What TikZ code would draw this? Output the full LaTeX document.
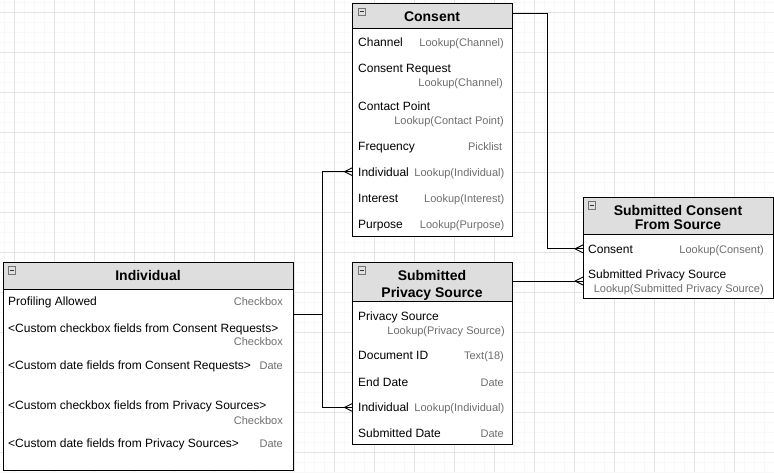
\documentclass[tikz,border=0pt]{standalone}
\usepackage{fontspec}
\setmainfont{Liberation Sans}
\definecolor{headgray}{HTML}{DEDEDE}
\definecolor{typegray}{HTML}{6E6E6E}
\definecolor{gridmajor}{HTML}{E3E3E3}
\definecolor{gridminor}{HTML}{F8F8F8}
\begin{document}
\begin{tikzpicture}[x=1pt,y=-1pt,
  ent/.style={draw=black, line width=0.8pt, fill=white, inner sep=0, outer sep=0, anchor=north west},
  enthead/.style={draw=black, line width=0.8pt, fill=headgray, inner sep=0, outer sep=0, anchor=north west},
  fld/.style={anchor=base west, inner sep=0, font=\fontsize{12}{14}\selectfont},
  typ/.style={anchor=base east, inner sep=0, text=typegray, font=\fontsize{11}{13}\selectfont},
  hdr/.style={anchor=base, inner sep=0, font=\fontsize{14}{16}\selectfont\bfseries},
  collapse/.style={draw=black!55, fill=black!12, line width=0.5pt, minimum size=7.5pt, inner sep=0,
    path picture={\draw[black!80, line width=0.8pt] ([xshift=-2pt]path picture bounding box.center) -- ([xshift=2pt]path picture bounding box.center);}},
  conn/.style={draw=black, line width=0.9pt},
  crow/.pic={\draw[conn] (-8,0) -- (0,4) (-8,0) -- (0,-4);}
]
\useasboundingbox (0,0) rectangle (774,472);
\fill[white] (0,0) rectangle (774,472);
% grid
\foreach \i in {0,...,77} {\draw[gridminor, line width=0.4pt] ({4+10*\i},0) -- ({4+10*\i},472);}
\foreach \i in {0,...,47} {\draw[gridminor, line width=0.4pt] (0,{2+10*\i}) -- (774,{2+10*\i});}
\foreach \i in {0,...,19} {\draw[gridmajor, line width=0.6pt] ({14+40*\i},0) -- ({14+40*\i},472);}
\foreach \i in {0,...,11} {\draw[gridmajor, line width=0.6pt] (0,{12+40*\i}) -- (774,{12+40*\i});}

% ---------- Consent ----------
\node[ent, minimum width=160, minimum height=233.5] (consentBox) at (352.5,3) {};
\node[enthead, minimum width=160, minimum height=25.5] (consentHead) at (352.5,3) {};
\node[collapse] (consentMin) at (361.5,11.5) {};
\node[hdr] (consentTitle) at (432,21.3) {Consent};
\node[fld] (cCh) at (358,46) {Channel};
\node[typ] (cChT) at (504,46) {Lookup(Channel)};
\node[fld] (cCR) at (358,72.5) {Consent Request};
\node[typ] (cCRT) at (503,86) {Lookup(Channel)};
\node[fld] (cCP) at (358,110) {Contact Point};
\node[typ] (cCPT) at (504,124) {Lookup(Contact Point)};
\node[fld] (cFr) at (358,150) {Frequency};
\node[typ] (cFrT) at (502.5,150) {Picklist};
\node[fld] (cIn) at (358,176) {Individual};
\node[typ] (cInT) at (504.5,176) {Lookup(Individual)};
\node[fld] (cIt) at (358,202) {Interest};
\node[typ] (cItT) at (504.5,202) {Lookup(Interest)};
\node[fld] (cPu) at (358,228) {Purpose};
\node[typ] (cPuT) at (504.5,228) {Lookup(Purpose)};

% ---------- Individual ----------
\node[ent, minimum width=290, minimum height=208] (indBox) at (3,262) {};
\node[enthead, minimum width=290, minimum height=27] (indHead) at (3,262) {};
\node[collapse] (indMin) at (11.5,270) {};
\node[hdr] (indTitle) at (148,280) {Individual};
\node[fld] (iPA) at (8,305.3) {Profiling Allowed};
\node[typ] (iPAT) at (283,305.3) {Checkbox};
\node[fld] (iCCR) at (8,332) {<Custom checkbox fields from Consent Requests>};
\node[typ] (iCCRT) at (283,345.7) {Checkbox};
\node[fld] (iDCR) at (8,369.7) {<Custom date fields from Consent Requests>};
\node[typ] (iDCRT) at (283,369.7) {Date};
\node[fld] (iCPS) at (8,409.7) {<Custom checkbox fields from Privacy Sources>};
\node[typ] (iCPST) at (283,424) {Checkbox};
\node[fld] (iDPS) at (8,447.3) {<Custom date fields from Privacy Sources>};
\node[typ] (iDPST) at (283,447.3) {Date};

% ---------- Submitted Privacy Source ----------
\node[ent, minimum width=160, minimum height=182] (spsBox) at (352.5,262) {};
\node[enthead, minimum width=160, minimum height=39] (spsHead) at (352.5,262) {};
\node[collapse] (spsMin) at (361.5,270) {};
\node[hdr] (spsTitle1) at (432,280.7) {Submitted};
\node[hdr] (spsTitle2) at (432,297) {Privacy Source};
\node[fld] (pPS) at (358,320) {Privacy Source};
\node[typ] (pPST) at (505,334) {Lookup(Privacy Source)};
\node[fld] (pDI) at (358,359.7) {Document ID};
\node[typ] (pDIT) at (504,359.7) {Text(18)};
\node[fld] (pED) at (358,386) {End Date};
\node[typ] (pEDT) at (504,386) {Date};
\node[fld] (pIn) at (358,411.7) {Individual};
\node[typ] (pInT) at (504.5,411.7) {Lookup(Individual)};
\node[fld] (pSD) at (358,437.3) {Submitted Date};
\node[typ] (pSDT) at (504,437.3) {Date};

% ---------- Submitted Consent From Source ----------
\node[ent, minimum width=190.5, minimum height=101] (scfsBox) at (583,197) {};
\node[enthead, minimum width=190.5, minimum height=37] (scfsHead) at (583,197) {};
\node[collapse] (scfsMin) at (591.5,205) {};
\node[hdr] (scfsTitle1) at (678,215.7) {Submitted Consent};
\node[hdr] (scfsTitle2) at (678,229.3) {From Source};
\node[fld] (sCo) at (588,253) {Consent};
\node[typ] (sCoT) at (764,253) {Lookup(Consent)};
\node[fld] (sSP) at (588,278.7) {Submitted Privacy Source};
\node[typ] (sSPT) at (764,292) {Lookup(Submitted Privacy Source)};

% ---------- Connectors ----------
\coordinate (indOut) at (293,314);
\coordinate (indBus) at (322,314);
\coordinate (toConsentInd) at (consentBox.west |- cIn);
\coordinate (toSpsInd) at (spsBox.west |- pIn);
\draw[conn] (indOut) -- (indBus) |- (toConsentInd);
\draw[conn] (indBus) |- (toSpsInd);
\pic at (toConsentInd) {crow};
\pic at (toSpsInd) {crow};

\coordinate (consentOut) at (512.5,13.3);
\coordinate (consentBend) at (547,13.3);
\coordinate (toScfsConsent) at (scfsBox.west |- sCo);
\draw[conn] (consentOut) -- (consentBend) |- (toScfsConsent);
\pic at (toScfsConsent) {crow};

\coordinate (spsOut) at (512.5,281);
\coordinate (toScfsSps) at (583,281);
\draw[conn] (spsOut) -- (toScfsSps);
\pic at (toScfsSps) {crow};
\end{tikzpicture}
\end{document}
